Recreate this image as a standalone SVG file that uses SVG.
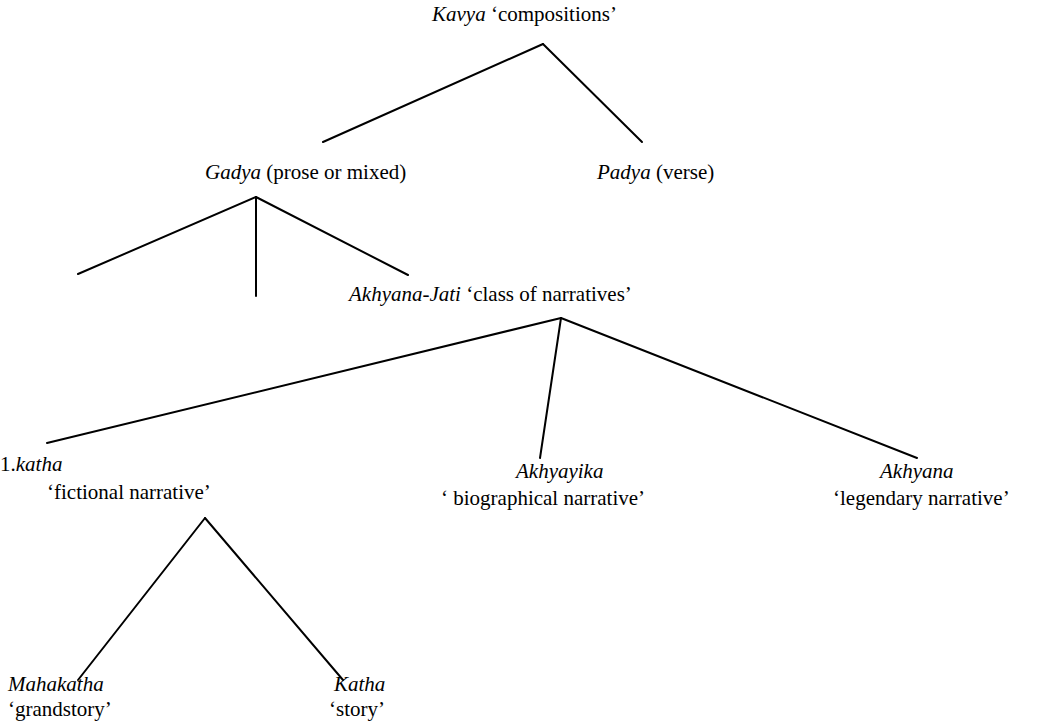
<svg xmlns="http://www.w3.org/2000/svg" width="1060" height="722" viewBox="0 0 1060 722">
<style>
text{font-family:"Liberation Serif","Times New Roman",serif;font-size:21px;fill:#000}
.i{font-style:italic}
.c line{stroke:#000;stroke-width:2;stroke-linecap:round}
</style>
<rect width="1060" height="722" fill="#fff"/>
<g class="c" id="connectors">
<line x1="543" y1="44" x2="323" y2="142"/>
<line x1="543" y1="44" x2="642" y2="142"/>
<line x1="256" y1="197" x2="78" y2="274"/>
<line x1="256" y1="197" x2="256" y2="296"/>
<line x1="256" y1="197" x2="408" y2="275"/>
<line x1="561" y1="318" x2="47" y2="443"/>
<line x1="561" y1="318" x2="540" y2="458"/>
<line x1="561" y1="318" x2="917" y2="458"/>
<line x1="205" y1="518" x2="78" y2="680"/>
<line x1="205" y1="518" x2="343" y2="680"/>
</g>
<g id="kavya"><text x="432" y="21"><tspan class="i">Kavya</tspan> ‘compositions’</text></g>
<g id="gadya"><text x="205" y="179"><tspan class="i">Gadya</tspan> (prose or mixed)</text></g>
<g id="padya"><text x="597" y="179"><tspan class="i">Padya</tspan> (verse)</text></g>
<g id="akhyana-jati"><text x="349" y="301"><tspan class="i">Akhyana-Jati</tspan> ‘class of narratives’</text></g>
<g id="katha1"><text x="0" y="471">1.<tspan class="i">katha</tspan></text><text x="47" y="499">‘fictional narrative’</text></g>
<g id="akhyayika"><text x="516" y="478" class="i">Akhyayika</text><text x="441" y="505">‘ biographical narrative’</text></g>
<g id="akhyana"><text x="880" y="478" class="i">Akhyana</text><text x="833" y="505">‘legendary narrative’</text></g>
<g id="mahakatha"><text x="8" y="691" class="i">Mahakatha</text><text x="8" y="716">‘grandstory’</text></g>
<g id="katha"><text x="334" y="691" class="i">Katha</text><text x="329" y="716">‘story’</text></g>
</svg>
